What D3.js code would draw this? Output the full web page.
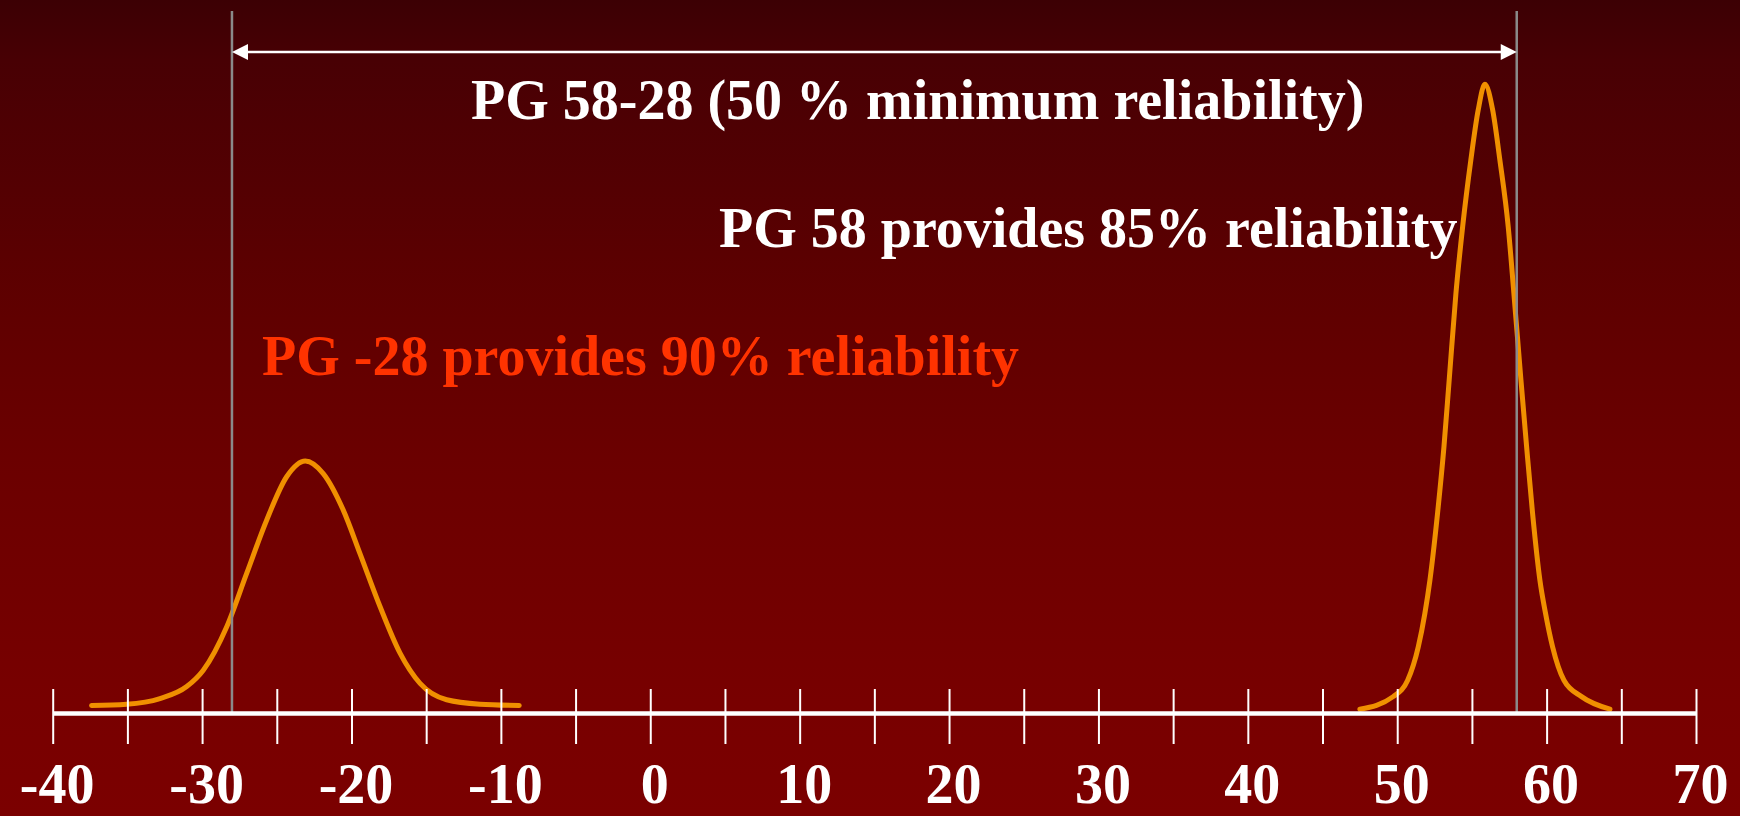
<!DOCTYPE html>
<html>
<head>
<meta charset="utf-8">
<script src="https://cdn.jsdelivr.net/npm/d3@7"></script>
<style>
  html, body { margin: 0; padding: 0; overflow: hidden; background: #5a0000; }
  svg { display: block; }
</style>
</head>
<body>
<svg id="chart" width="1740" height="816"></svg>
<script>
// Pavement temperature axis (°C)
const tickValues = [-40, -35, -30, -25, -20, -15, -10, -5, 0, 5, 10, 15, 20, 25, 30, 35, 40, 45, 50, 55, 60, 65, 70];
const labelValues = [-40, -30, -20, -10, 0, 10, 20, 30, 40, 50, 60, 70];

// Performance grade limits
const gradeLow = -28;
const gradeHigh = 58;

// Low pavement temperature distribution (relative frequency)
const lowTempX = [-37.4, -35.05, -32.82, -31.03, -29.92, -28.35, -27.01, -25.68, -24.34, -23.09,
                  -21.89, -20.55, -19.43, -18.09, -16.75, -15.41, -13.63, -11.40, -8.77];
const lowTempY = [0.012, 0.014, 0.023, 0.042, 0.068, 0.137, 0.222, 0.306, 0.375, 0.400,
                  0.380, 0.322, 0.253, 0.169, 0.095, 0.047, 0.021, 0.014, 0.012];

// High pavement temperature distribution (relative frequency)
const highTempX = [47.50, 49.73, 50.70, 51.41, 51.85, 52.19, 52.70, 53.13, 53.48, 53.93, 54.38, 54.93,
                   55.42, 55.87, 56.39, 56.87, 57.43, 57.81, 58.28, 58.66, 59.06, 59.55, 59.93, 60.40,
                   61.16, 62.34, 64.24];
const highTempY = [0.006, 0.026, 0.052, 0.105, 0.158, 0.211, 0.317, 0.423, 0.529, 0.666, 0.772, 0.878,
                   0.957, 0.998, 0.957, 0.878, 0.772, 0.666, 0.529, 0.423, 0.317, 0.211, 0.158, 0.105,
                   0.052, 0.026, 0.006];

const titleText = "PG 58-28 (50 % minimum reliability)";
const highNote = "PG 58 provides 85% reliability";
const lowNote = "PG -28 provides 90% reliability";

const W = 1740, H = 816;
const svg = d3.select("#chart");

const x = d3.scaleLinear().domain([-40, 70]).range([52.7, 1696]);
const y = d3.scaleLinear().domain([0, 1]).range([713, 83]);

// Background gradient
const defs = svg.append("defs");
const grad = defs.append("linearGradient")
  .attr("id", "bg").attr("x1", 0).attr("y1", 0).attr("x2", 0).attr("y2", 1);
[[0, "#3c0004"], [0.074, "#480004"], [0.39, "#600000"], [0.56, "#6b0000"], [0.86, "#780000"], [1, "#7b0000"]]
  .forEach(([o, c]) => grad.append("stop").attr("offset", o).attr("stop-color", c));
svg.append("rect").attr("width", W).attr("height", H).attr("fill", "url(#bg)");

// Distribution curves
const line = d3.line()
  .x(d => x(d[0]))
  .y(d => y(d[1]))
  .curve(d3.curveMonotoneX);

const curves = [d3.zip(lowTempX, lowTempY), d3.zip(highTempX, highTempY)];
svg.append("g").selectAll("path").data(curves).join("path")
  .attr("d", line)
  .attr("fill", "none")
  .attr("stroke", "#f09000")
  .attr("stroke-width", 5)
  .attr("stroke-linecap", "round")
  .attr("stroke-linejoin", "round");

// Grade limit markers
svg.append("g").selectAll("line").data([gradeLow, gradeHigh]).join("line")
  .attr("x1", d => x(d)).attr("x2", d => x(d))
  .attr("y1", 11).attr("y2", y(0))
  .attr("stroke", "#8a8a8a")
  .attr("stroke-width", 2.5);

// Temperature axis
const axis = d3.axisBottom(x)
  .tickValues(tickValues)
  .tickSize(0)
  .tickSizeOuter(0)
  .tickPadding(0)
  .tickFormat(d => labelValues.includes(d) ? String(d) : "");

const gAxis = svg.append("g")
  .attr("transform", `translate(0,${y(0)})`)
  .call(axis)
  .attr("font-family", "'Liberation Serif', 'Times New Roman', serif")
  .attr("font-size", 56)
  .attr("font-weight", "bold");

gAxis.select(".domain")
  .attr("stroke", "#ffffff")
  .attr("stroke-width", 4.5);
gAxis.selectAll(".tick line")
  .attr("y1", -24).attr("y2", 31)
  .attr("stroke", "#ffffff")
  .attr("stroke-width", 2);
gAxis.selectAll(".tick text")
  .attr("y", 90).attr("dy", 0).attr("dx", 4)
  .attr("fill", "#ffffff");

// Double-headed arrow spanning the grade range
const arrowY = 52, head = 16, half = 8;
const xa = x(gradeLow), xb = x(gradeHigh);
const gArrow = svg.append("g");
gArrow.append("line")
  .attr("x1", xa + head - 2).attr("x2", xb - head + 2)
  .attr("y1", arrowY).attr("y2", arrowY)
  .attr("stroke", "#ffffff").attr("stroke-width", 2.5);
gArrow.append("path")
  .attr("d", `M${xa},${arrowY}L${xa + head},${arrowY - half}L${xa + head},${arrowY + half}Z`)
  .attr("fill", "#ffffff");
gArrow.append("path")
  .attr("d", `M${xb},${arrowY}L${xb - head},${arrowY - half}L${xb - head},${arrowY + half}Z`)
  .attr("fill", "#ffffff");

// Annotations
const notes = [
  { text: titleText, x: 471, y: 118.5, color: "#ffffff" },
  { text: highNote, x: 719, y: 247, color: "#ffffff" },
  { text: lowNote, x: 262, y: 375, color: "#ff3300" }
];
svg.append("g").selectAll("text").data(notes).join("text")
  .attr("x", d => d.x).attr("y", d => d.y)
  .attr("fill", d => d.color)
  .attr("font-family", "'Liberation Serif', 'Times New Roman', serif")
  .attr("font-size", 56)
  .attr("font-weight", "bold")
  .text(d => d.text);
</script>
</body>
</html>
